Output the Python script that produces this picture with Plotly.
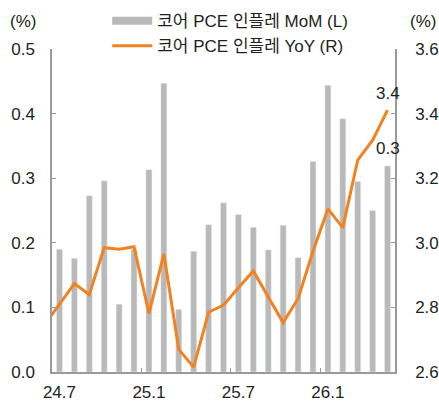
import plotly.graph_objects as go

months = ["24.6", "24.7", "24.8", "24.9", "24.10", "24.11", "24.12",
          "25.1", "25.2", "25.3", "25.4", "25.5", "25.6",
          "25.7", "25.8", "25.9", "25.10", "25.11", "25.12",
          "26.1", "26.2", "26.3", "26.4", "26.5"]
mom = [None, 0.190, 0.176, 0.273, 0.296, 0.105, 0.190,
       0.313, 0.447, 0.097, 0.187, 0.228, 0.262,
       0.244, 0.224, 0.189, 0.227, 0.177, 0.326,
       0.444, 0.392, 0.295, 0.250, 0.319]
yoy = [2.746, 2.810, 2.874, 2.840, 2.985, 2.980, 2.988,
       2.781, 2.966, 2.670, 2.615, 2.785, 2.807,
       2.861, 2.913, 2.832, 2.753, 2.827, 2.974,
       3.105, 3.047, 3.256, 3.318, 3.411]
tick_months = ["24.7", "25.1", "25.7", "26.1"]
left_ticks = [0.0, 0.1, 0.2, 0.3, 0.4, 0.5]
right_ticks = [2.6, 2.8, 3.0, 3.2, 3.4, 3.6]
name_mom = "코어 PCE 인플레 MoM (L)"
name_yoy = "코어 PCE 인플레 YoY (R)"

GRAY = "#b9b9b9"
ORANGE = "#f28220"
AXIS = "#9a9a9a"
TXT = "#231f20"
FONT = "Liberation Sans, Arial, Noto Sans CJK KR, sans-serif"

x = list(range(len(months)))
tickpos = [months.index(m) for m in tick_months]
boundaries = [p - 0.5 for p in tickpos[1:]]

fig = go.Figure()
fig.add_trace(go.Bar(x=x, y=mom, marker_color=GRAY, width=0.4,
                     showlegend=False, yaxis="y"))
fig.add_trace(go.Scatter(x=[None], y=[None], mode="lines", name=name_mom,
                         line=dict(color=GRAY, width=8), yaxis="y"))
fig.add_trace(go.Scatter(x=x, y=yoy, mode="lines", name=name_yoy,
                         line=dict(color=ORANGE, width=3), yaxis="y2"))

fig.add_annotation(x=x[-1], y=yoy[-1], yref="y2", text=f"{yoy[-1]:.1f}",
                   showarrow=False, yshift=17, font=dict(size=17, color=TXT))
fig.add_annotation(x=x[-1], y=mom[-1], yref="y", text=f"{mom[-1]:.1f}",
                   showarrow=False, yshift=17, font=dict(size=17, color=TXT))
fig.add_annotation(xref="paper", yref="paper", x=-0.086, y=1.084,
                   xanchor="center", yanchor="middle",
                   text="(%)", showarrow=False, font=dict(size=17, color=TXT))
fig.add_annotation(xref="paper", yref="paper", x=1.082, y=1.084,
                   xanchor="center", yanchor="middle",
                   text="(%)", showarrow=False, font=dict(size=17, color=TXT))

fig.update_layout(
    width=439, height=403,
    margin=dict(l=52, r=44, t=49, b=31, autoexpand=False),
    paper_bgcolor="white", plot_bgcolor="white",
    font=dict(family=FONT, size=17, color=TXT),
    xaxis=dict(range=[0.5, len(months) - 0.5], tickvals=tickpos,
               ticktext=tick_months, ticks="", showgrid=False,
               showline=True, linecolor=AXIS, linewidth=1.5,
               tickfont=dict(size=17), zeroline=False, automargin=False,
               ticklabelstandoff=4,
               minor=dict(tickvals=boundaries, ticks="inside", ticklen=4,
                          tickcolor=AXIS, showgrid=False)),
    yaxis=dict(range=[0, 0.5], tickvals=left_ticks,
               ticktext=[f"{v:.1f}" for v in left_ticks],
               ticks="inside", ticklen=4, tickcolor=AXIS,
               showline=True, linecolor=AXIS, linewidth=1.5,
               showgrid=False, zeroline=False, automargin=False,
               ticklabelstandoff=12),
    yaxis2=dict(range=[2.6, 3.6], tickvals=right_ticks,
                ticktext=[f"{v:.1f}" for v in right_ticks],
                overlaying="y", side="right",
                ticks="inside", ticklen=4, tickcolor=AXIS,
                showline=True, linecolor=AXIS, linewidth=1.5,
                showgrid=False, zeroline=False, automargin=False,
                ticklabelstandoff=15),
    legend=dict(x=0.161, y=1.142, xanchor="left", yanchor="top",
                font=dict(size=17, color=TXT), bgcolor="rgba(0,0,0,0)",
                itemwidth=40, tracegroupgap=0),
)

fig.write_html("out.html", config={"displayModeBar": False},
               post_script="document.body.style.margin='0';"
                           "document.body.style.overflow='hidden';")
